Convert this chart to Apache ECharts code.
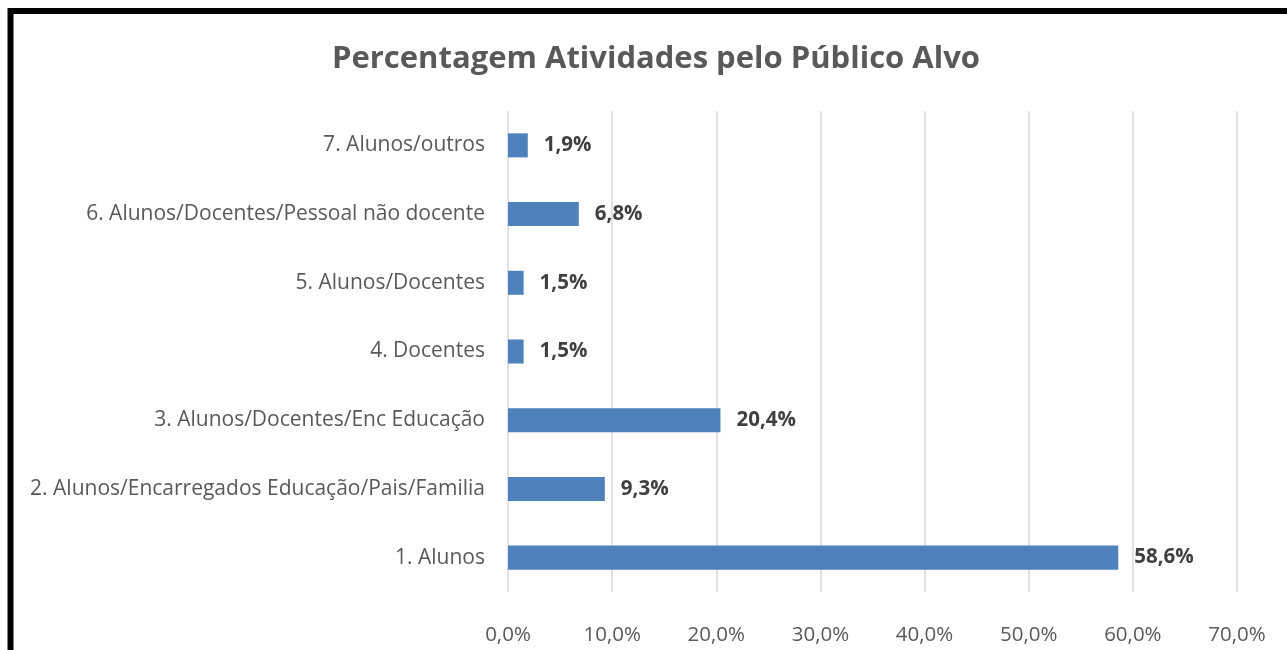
<!DOCTYPE html>
<html><head><meta charset="utf-8">
<script src="https://cdn.jsdelivr.net/npm/echarts@6/dist/echarts.min.js"></script>
<style>html,body{margin:0;padding:0;background:#fff;}#c{width:1287px;height:650px;}</style>
</head><body><div id="c"></div>
<script>
const categories = ["1. Alunos","2. Alunos/Encarregados Educação/Pais/Familia","3. Alunos/Docentes/Enc Educação","4. Docentes","5. Alunos/Docentes","6. Alunos/Docentes/Pessoal não docente","7. Alunos/outros"];
const values = [58.6, 9.3, 20.4, 1.5, 1.5, 6.8, 1.9];
const titleText = "Percentagem Atividades pelo Público Alvo";
const FONT = "Open Sans";
const fmt = v => v.toFixed(1).replace('.', ',') + '%';
const chart = echarts.init(document.getElementById('c'));
chart.setOption({
  animation:false,
  backgroundColor:'#fff',
  title:{text:titleText,left:651,textAlign:'center',top:39,textStyle:{fontFamily:FONT,fontSize:31,fontWeight:'bold',color:'#595959'}},
  graphic:[{type:'rect',shape:{x:10.5,y:11,width:1300,height:700},style:{fill:'none',stroke:'#000',lineWidth:6},z:100}],
  grid:{left:508,right:50,top:111,bottom:58,containLabel:false},
  xAxis:{type:'value',min:0,max:70,interval:10,
    axisLine:{show:false},axisTick:{show:false},
    splitLine:{lineStyle:{color:'#d9d9d9',width:1.5}},
    axisLabel:{margin:33,formatter:v=>fmt(v),fontFamily:FONT,fontSize:20.5,color:'#595959'}},
  yAxis:{type:'category',data:categories,
    axisLine:{show:false},axisTick:{show:false},
    axisLabel:{margin:23,fontFamily:FONT,fontSize:21,color:'#595959'}},
  series:[{type:'bar',data:values,barWidth:'35%',itemStyle:{color:'#4f81bd'},
    label:{show:true,position:'right',distance:16,formatter:p=>fmt(p.value),fontFamily:FONT,fontSize:20.5,fontWeight:'bold',color:'#404040'}}]
});
</script></body></html>
